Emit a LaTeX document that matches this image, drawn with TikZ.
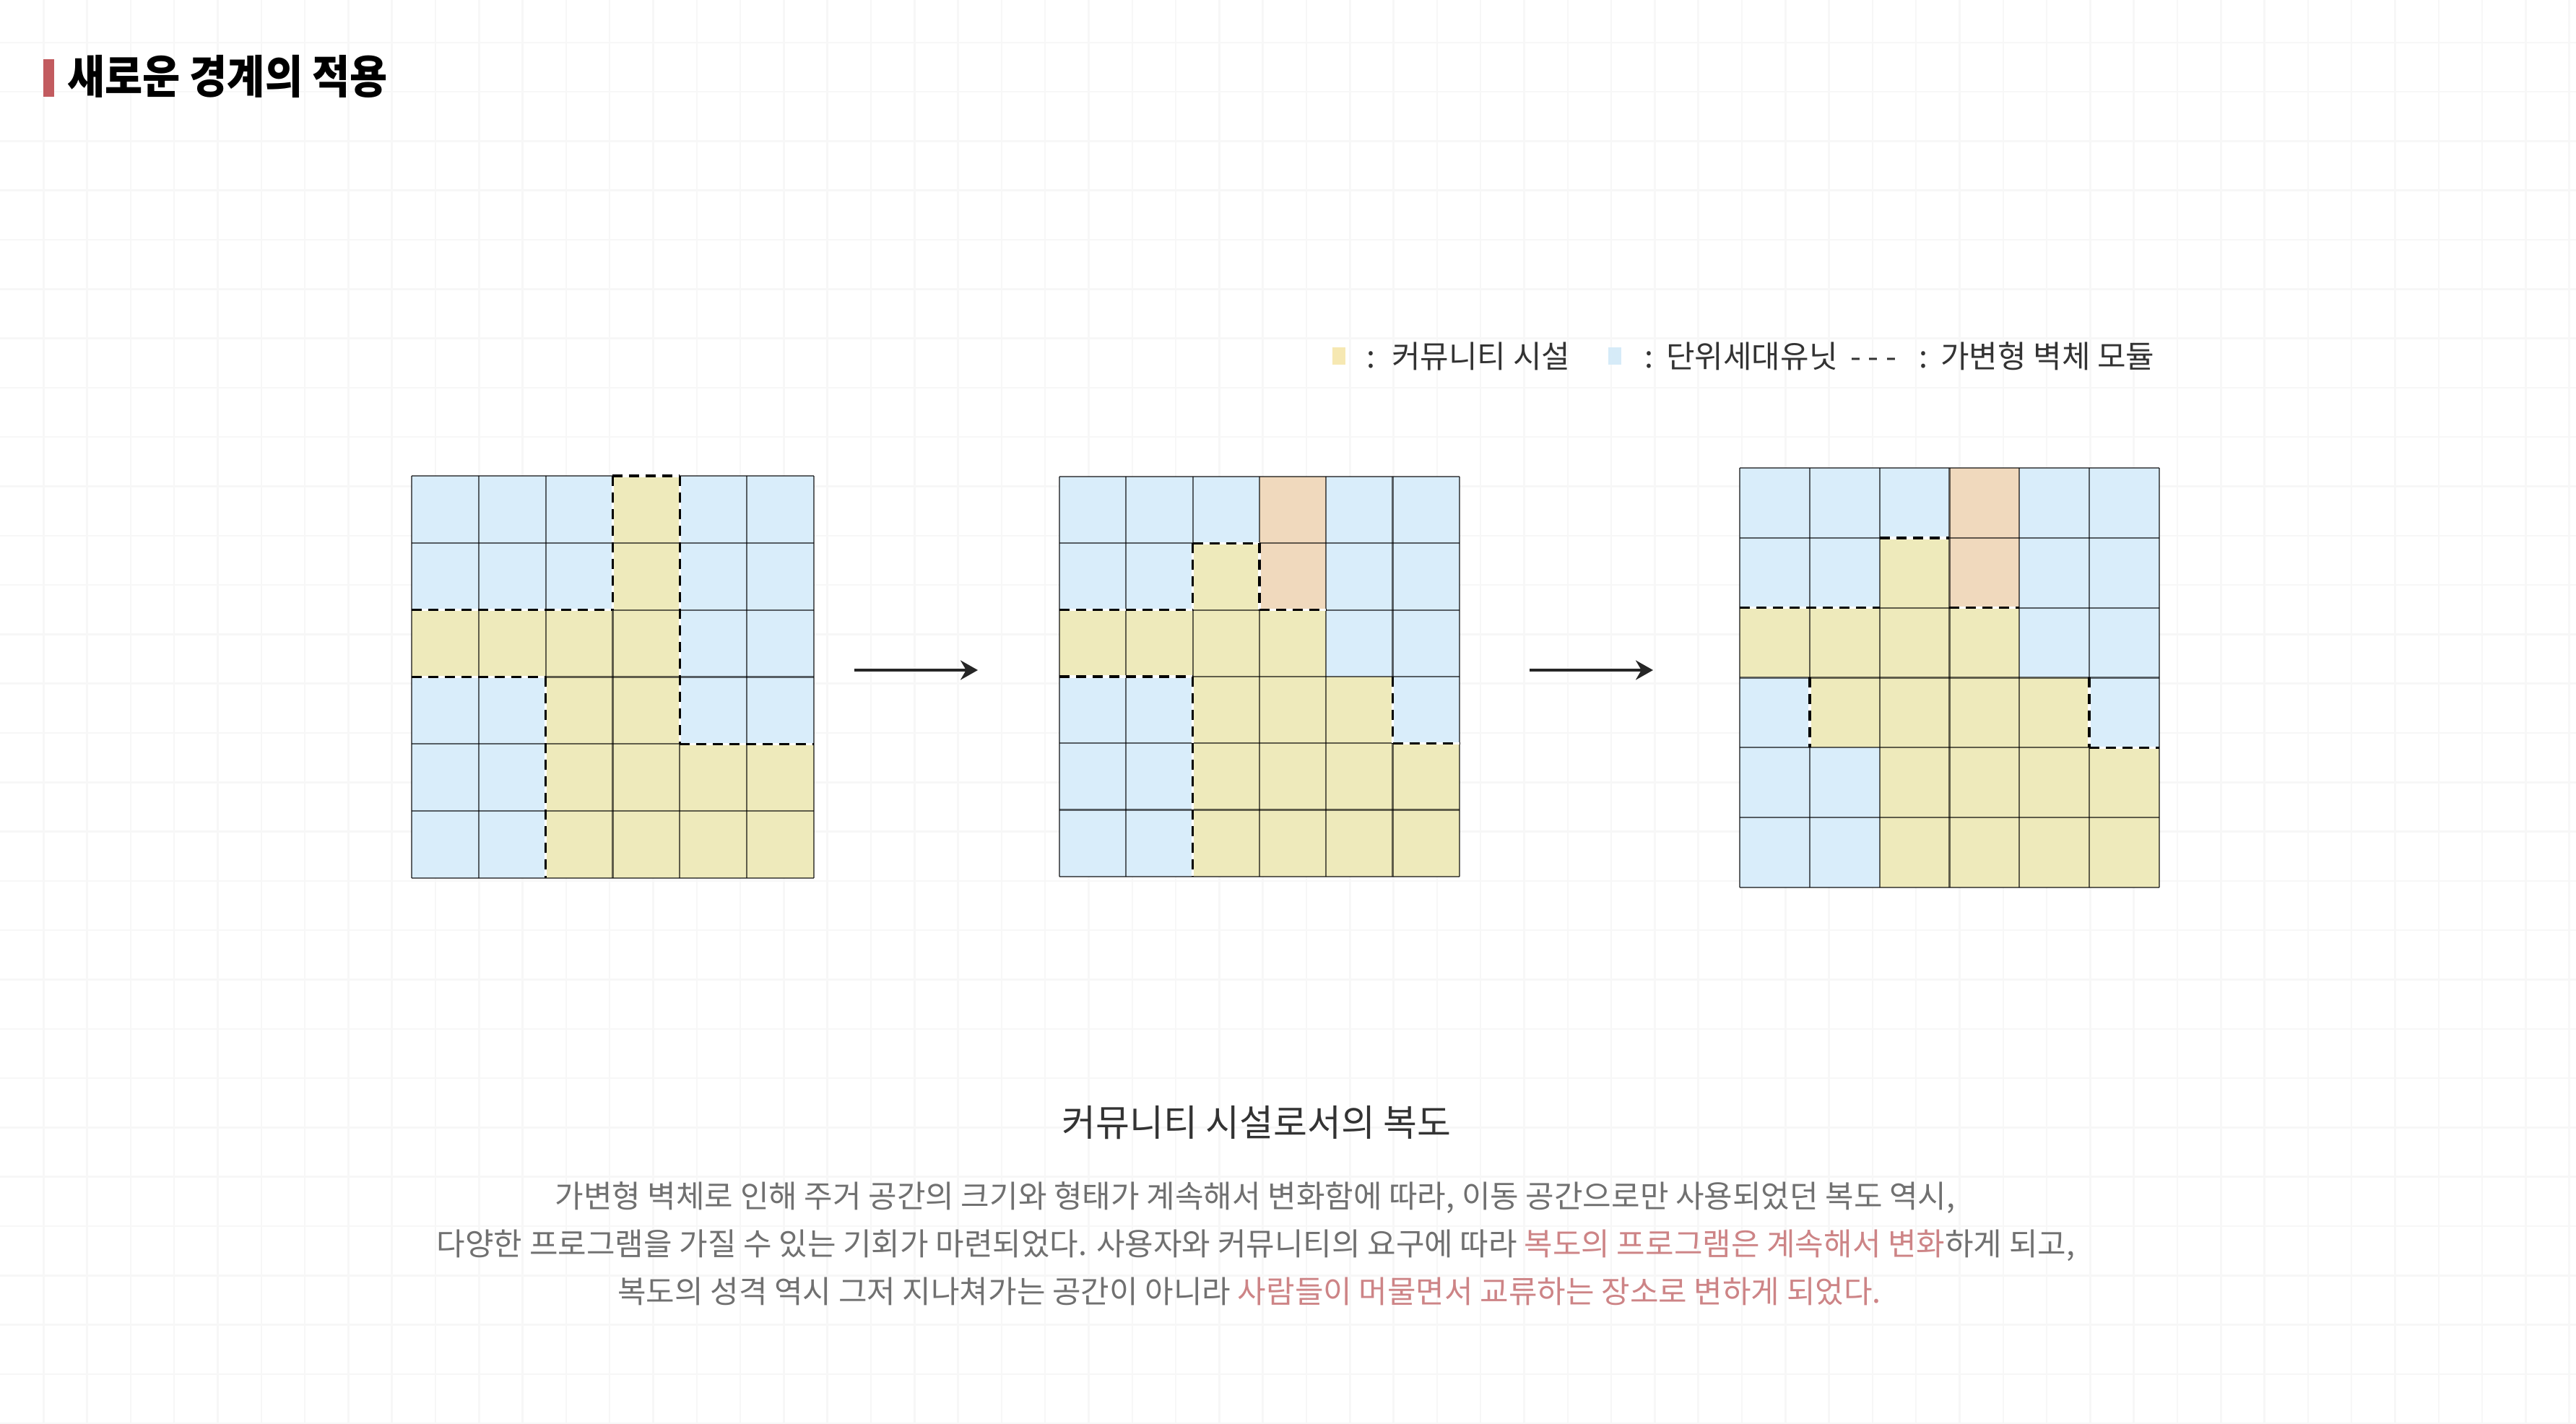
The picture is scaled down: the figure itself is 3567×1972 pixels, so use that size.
\documentclass[tikz,border=0pt]{standalone}
\usepackage{fontspec}
\setmainfont{Noto Sans CJK KR}
\newfontfamily\krtitle[FakeStretch=0.9]{Noto Sans CJK KR}
\usetikzlibrary{arrows.meta}
\definecolor{cellB}{HTML}{D9EDFA}
\definecolor{cellY}{HTML}{EEEABB}
\definecolor{cellO}{HTML}{F0D9BD}
\definecolor{legY}{HTML}{F6E8B2}
\definecolor{legB}{HTML}{D6EBF8}
\definecolor{titlebar}{HTML}{C25B5F}
\definecolor{hl}{HTML}{CD8486}
\definecolor{bodytxt}{HTML}{707070}
\definecolor{headtxt}{HTML}{333333}
\definecolor{bgline}{HTML}{F7F7F7}
\tikzset{
  bggrid/.style={draw=bgline, line width=2.5pt},
  gridln/.style={draw=black, draw opacity=0.6, line width=2.2pt},
  wallbase/.style={draw=white, line width=3.4pt},
  wall/.style={draw=black, line width=3.4pt, dash pattern=on 14pt off 9pt},
  flowarrow/.style={draw=black!85, line width=3.5pt, -{Stealth[length=24pt,width=27pt]}},
  legtxt/.style={anchor=base west, inner sep=0pt, text=headtxt, font=\fontsize{43}{50}\selectfont},
  bodyline/.style={anchor=base, inner sep=0pt, text=bodytxt, font=\fontsize{43}{50}\selectfont},
}
\newcommand\gridlines{%
  \foreach \i in {0,...,6} {\draw[gridln] (\i,0) -- (\i,6); \draw[gridln] (0,\i) -- (6,\i);}}
\newcommand\wallseg[2]{\draw[wallbase] #1 -- #2; \draw[wall] #1 -- #2;}
\begin{document}
\begin{tikzpicture}[x=1pt,y=-1pt]
\useasboundingbox (0,0) rectangle (3567,1972);
\fill[white] (0,0) rectangle (3567,1972);
% faint background grid
\foreach \i in {1,...,59} {\draw[bggrid] ({60.3*\i},0) -- ({60.3*\i},1972);}
\foreach \j in {0,...,28} {\draw[bggrid] (0,{58.8+68.3*\j}) -- (3567,{58.8+68.3*\j});}

% title
\fill[titlebar] (60,82) rectangle (75,134);
\node[anchor=west, inner sep=0pt, text=black] (title) at (93,106)
  {\krtitle\bfseries\fontsize{63}{72}\selectfont 새로운 경계의 적용};

% legend
\fill[legY] (1845,481) rectangle (1863,505);
\node[legtxt] (legyc) at (1892,509) {:};
\node[legtxt] (legy) at (1927,509) {커뮤니티 시설};
\fill[legB] (2227,481) rectangle (2245,505);
\node[legtxt] (legbc) at (2277,509) {:};
\node[legtxt] (legb) at (2307,509) {단위세대유닛};
\node[legtxt] (legd) at (2562,509) {- - -};
\node[legtxt] (legwc) at (2657,509) {:};
\node[legtxt] (legw) at (2687,509) {가변형 벽체 모듈};

% grid 1
\begin{scope}[shift={(570pt,-659pt)}, x=92.8pt, y=-92.8pt]
  \fill[cellB] (0,0) rectangle (6,6);
  \fill[cellY] (3,0) rectangle (4,2);
  \fill[cellY] (0,2) rectangle (4,3);
  \fill[cellY] (2,3) rectangle (4,4);
  \fill[cellY] (2,4) rectangle (6,6);
  \gridlines
  \wallseg{(3,0)}{(4,0)}
  \wallseg{(3,0)}{(3,2)}
  \wallseg{(4,0)}{(4,4)}
  \wallseg{(0,2)}{(3,2)}
  \wallseg{(0,3)}{(2,3)}
  \wallseg{(2,3)}{(2,6)}
  \wallseg{(4,4)}{(6,4)}
\end{scope}

% grid 2
\begin{scope}[shift={(1467pt,-660pt)}, x=92.3pt, y=-92.3pt]
  \fill[cellB] (0,0) rectangle (6,6);
  \fill[cellO] (3,0) rectangle (4,2);
  \fill[cellY] (2,1) rectangle (3,2);
  \fill[cellY] (0,2) rectangle (4,3);
  \fill[cellY] (2,3) rectangle (5,4);
  \fill[cellY] (2,4) rectangle (6,6);
  \gridlines
  \wallseg{(2,1)}{(3,1)}
  \wallseg{(2,1)}{(2,2)}
  \wallseg{(3,1)}{(3,2)}
  \wallseg{(0,2)}{(2,2)}
  \wallseg{(3,2)}{(4,2)}
  \wallseg{(0,3)}{(2,3)}
  \wallseg{(2,3)}{(2,6)}
  \wallseg{(5,3)}{(5,4)}
  \wallseg{(5,4)}{(6,4)}
\end{scope}

% grid 3
\begin{scope}[shift={(2409pt,-648pt)}, x=96.8pt, y=-96.8pt]
  \fill[cellB] (0,0) rectangle (6,6);
  \fill[cellO] (3,0) rectangle (4,2);
  \fill[cellY] (2,1) rectangle (3,2);
  \fill[cellY] (0,2) rectangle (4,3);
  \fill[cellY] (1,3) rectangle (5,4);
  \fill[cellY] (2,4) rectangle (6,6);
  \gridlines
  \wallseg{(2,1)}{(3,1)}
  \wallseg{(0,2)}{(2,2)}
  \wallseg{(3,2)}{(4,2)}
  \wallseg{(1,3)}{(1,4)}
  \wallseg{(5,3)}{(5,4)}
  \wallseg{(5,4)}{(6,4)}
\end{scope}

% arrows
\coordinate (a1s) at (1183,928);
\coordinate (a1e) at (1354,928);
\coordinate (a2s) at (2118,928);
\coordinate (a2e) at (2289,928);
\draw[flowarrow] (a1s) -- (a1e);
\draw[flowarrow] (a2s) -- (a2e);

% caption
\node[anchor=base, inner sep=0pt, text=headtxt, font=\fontsize{51}{60}\selectfont] (sub) at (1740,1573) {커뮤니티 시설로서의 복도};
\node[bodyline] (p1) at (1738,1672) {가변형 벽체로 인해 주거 공간의 크기와 형태가 계속해서 변화함에 따라, 이동 공간으로만 사용되었던 복도 역시,};
\node[bodyline] (p2) at (1739,1738) {다양한 프로그램을 가질 수 있는 기회가 마련되었다. 사용자와 커뮤니티의 요구에 따라 \textcolor{hl}{복도의 프로그램은 계속해서 변화}하게 되고,};
\node[bodyline] (p3) at (1730,1804) {복도의 성격 역시 그저 지나쳐가는 공간이 아니라 \textcolor{hl}{사람들이 머물면서 교류하는 장소로 변하게 되었다.}};
\end{tikzpicture}
\end{document}
